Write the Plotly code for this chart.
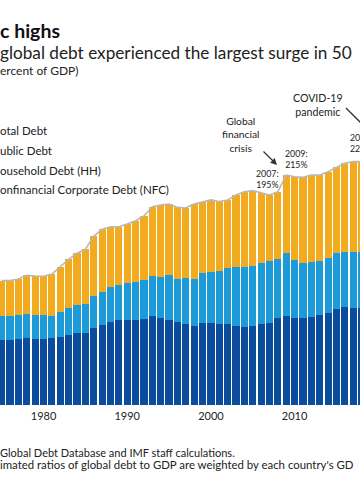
import plotly.graph_objects as go

# ---- data (percent of GDP) ----
years = list(range(1975, 2019))
public_debt = [32.8, 32.8, 33.4, 35.9, 36.2, 35.9, 38.7, 41.8, 45.5, 48.0,
               50.8, 55.7, 57.9, 56.3, 54.1, 55.1, 56.6, 59.4, 64.3, 66.6,
               66.2, 66.1, 65.3, 69.9, 65.9, 66.6, 64.3, 63.4, 66.6, 69.6,
               69.9, 65.6, 61.0, 62.8, 72.7, 77.3, 79.3, 80.5, 79.6, 80.4,
               79.9, 82.1, 83.6, 83.6]
household_debt = [22.3, 22.3, 22.6, 22.6, 22.6, 22.6, 21.0, 23.2, 24.8, 26.3,
                  26.6, 30.0, 30.9, 31.9, 32.5, 34.1, 35.6, 36.5, 37.1, 38.6,
                  41.5, 40.1, 42.4, 43.4, 47.0, 47.9, 49.8, 52.0, 55.1, 56.3,
                  55.7, 56.4, 57.6, 54.8, 58.2, 54.1, 51.6, 51.1, 50.4, 50.5,
                  52.0, 51.6, 52.6, 52.6]
nfc_debt = [60.4, 60.4, 61.0, 61.9, 61.0, 61.0, 61.9, 63.4, 65.0, 66.6,
            67.1, 71.2, 74.3, 77.3, 78.9, 78.9, 78.9, 79.6, 82.6, 80.5,
            78.9, 77.3, 75.2, 73.4, 75.9, 75.9, 74.9, 74.9, 73.4, 72.1,
            73.4, 75.2, 76.4, 80.5, 82.6, 80.5, 80.5, 82.0, 83.6, 85.7,
            88.9, 90.7, 89.8, 89.8]
total_debt = [round(a + b + c, 1) for a, b, c in zip(public_debt, household_debt, nfc_debt)]
tick_years = [1980, 1990, 2000, 2010]

# ---- geometry helpers (pixel -> paper) ----
W, H = 360, 504
TOP, BOTTOM = 0, 99
PLOT_H = H - TOP - BOTTOM


def px(x):
    return x / W


def py(y):
    return (H - BOTTOM - y) / PLOT_H


FONT = "Lato"
TXT = "#222222"
ORANGE = "#F2AA1F"
LIGHT = "#1D9BD8"
DARK = "#0B4C9C"

fig = go.Figure()
fig.add_trace(go.Bar(x=years, y=nfc_debt, name="Nonfinancial Corporate Debt (NFC)",
                     marker=dict(color=DARK, line=dict(width=0))))
fig.add_trace(go.Bar(x=years, y=household_debt, name="Household Debt (HH)",
                     marker=dict(color=LIGHT, line=dict(width=0))))
fig.add_trace(go.Bar(x=years, y=public_debt, name="Public Debt",
                     marker=dict(color=ORANGE, line=dict(width=0))))
fig.add_trace(go.Scatter(x=years, y=total_debt, name="Total Debt", mode="lines",
                         line=dict(color="#b8b8b8", width=1.6)))

ann = []


def text(x, y, s, size, xanchor="left", bold=False, color=TXT):
    ann.append(dict(x=px(x), y=py(y), xref="paper", yref="paper", text=("<b>%s</b>" % s) if bold else s,
                    showarrow=False, xanchor=xanchor, yanchor="middle", borderpad=0,
                    font=dict(family=FONT, size=size, color=color)))


# header (cropped view)
text(-1, 30.5, "c highs", 19.5, bold=True, color="#111111")
text(-1, 52.5, "global debt experienced the largest surge in 50", 17.2)
text(-1, 71, "ercent of GDP)", 12)

# legend labels (cropped view)
text(-1, 131, "otal Debt", 11.5)
text(-1, 150.5, "ublic Debt", 11.5)
text(-1, 170.5, "ousehold Debt (HH)", 11.5)
text(-1, 189.5, "onfinancial Corporate Debt (NFC)", 11.5)

# event labels
text(240, 134.6, "Global<br>financial<br>crisis", 10.3, xanchor="center")
text(318, 105, "COVID-19<br>pandemic", 10.6, xanchor="center")

# data labels
text(267.5, 179.3, "2007:<br>195%", 8.8, xanchor="center")
text(296, 158.9, "2009:<br>215%", 8.8, xanchor="center")
text(348.5, 143, "20<br>22", 8.8)

# notes (cropped view)
text(-1, 452.3, "Global Debt Database and IMF staff calculations.", 11)
text(-1, 464.6, "imated ratios of global debt to GDP are weighted by each country's GD", 11.4)

# arrows
ann.append(dict(x=px(277), y=py(165), xref="paper", yref="paper",
                ax=262 - 277, ay=150 - 165, axref="pixel", ayref="pixel",
                showarrow=True, arrowhead=2, arrowsize=1, arrowwidth=1.3, arrowcolor="#333333",
                text=""))

shapes = [dict(type="line", xref="paper", yref="paper",
               x0=px(346), y0=py(108), x1=px(372), y1=py(134),
               line=dict(color="#333333", width=1.3))]

fig.update_layout(
    width=W, height=H,
    margin=dict(l=0, r=0, t=TOP, b=BOTTOM),
    barmode="stack", bargap=0.14,
    showlegend=False,
    plot_bgcolor="white", paper_bgcolor="white",
    annotations=ann, shapes=shapes,
    xaxis=dict(range=[1974.80, 2017.81], tickvals=tick_years, ticktext=[str(y) for y in tick_years],
               showgrid=False, zeroline=False, showline=False, ticks="",
               tickfont=dict(family=FONT, size=11, color=TXT), ticklabelstandoff=3),
    yaxis=dict(range=[0, PLOT_H / 1.077], visible=False, showgrid=False, zeroline=False),
)

fig.write_html("out.html", config={"displayModeBar": False},
               post_script="document.body.style.margin='0';document.body.style.overflow='hidden';")
